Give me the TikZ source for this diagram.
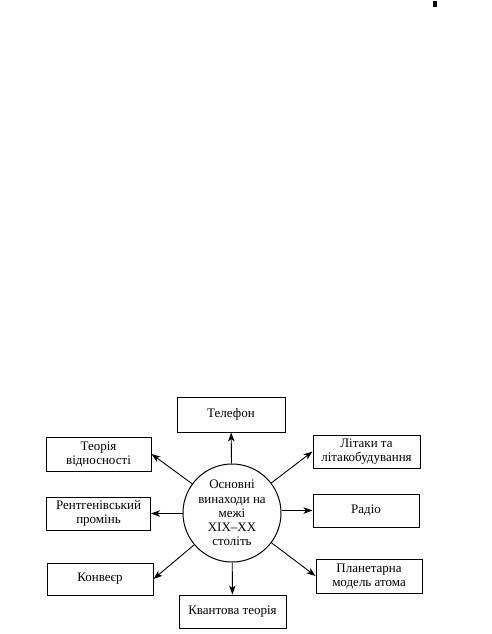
\documentclass[tikz,border=0pt]{standalone}
\usepackage{fontspec}
\setmainfont{Liberation Serif}
\usetikzlibrary{arrows.meta}
\begin{document}
\begin{tikzpicture}[x=1pt,y=-1pt,
  box/.style={draw, line width=1pt, align=center, inner sep=1pt,
    font=\fontsize{13}{14}\selectfont},
  hub/.style={draw, circle, line width=1pt, align=center, inner sep=0pt,
    minimum size=98pt, font=\fontsize{13}{14.2}\selectfont},
  arr/.style={line width=0.9pt, -{Stealth[length=9pt,width=6.5pt,inset=2.5pt]}}]
\useasboundingbox (0,0) rectangle (491,634);
\fill (433,1) rectangle (437,7);
\node[hub] (c) at (232,513) {Основні\\винаходи на\\межі\\XIX–XX\\століть};
\node[box, minimum width=108pt, minimum height=35pt] (tel) at (231,414.5) {Телефон};
\node[box, minimum width=105pt, minimum height=34pt] (rel) at (98.5,454) {Теорія\\відносності};
\node[box, minimum width=104pt, minimum height=33pt] (xray) at (98.5,513.5) {Рентгенівський\\промінь};
\node[box, minimum width=106pt, minimum height=32pt] (conv) at (100,579) {Конвеєр};
\node[box, minimum width=107pt, minimum height=33pt] (quant) at (232.5,611.5) {Квантова теорія};
\node[box, minimum width=107pt, minimum height=33pt] (avia) at (366.5,451.5) {Літаки та\\літакобудування};
\node[box, minimum width=106pt, minimum height=33pt] (radio) at (366,510.5) {Радіо};
\node[box, minimum width=106pt, minimum height=34pt] (planet) at (369,576) {Планетарна\\модель атома};
\draw[arr] (c) -- (tel);
\draw[arr] (c) -- (rel.east);
\draw[arr] (xray.east -| c.west) -- (xray.east);
\draw[arr] (c) -- (conv.east);
\draw[arr] (c) -- (quant);
\draw[arr] (c) -- (avia.west);
\draw[arr] (radio.west -| c.east) -- (radio.west);
\draw[arr] (c) -- (planet.west);
\end{tikzpicture}
\end{document}
